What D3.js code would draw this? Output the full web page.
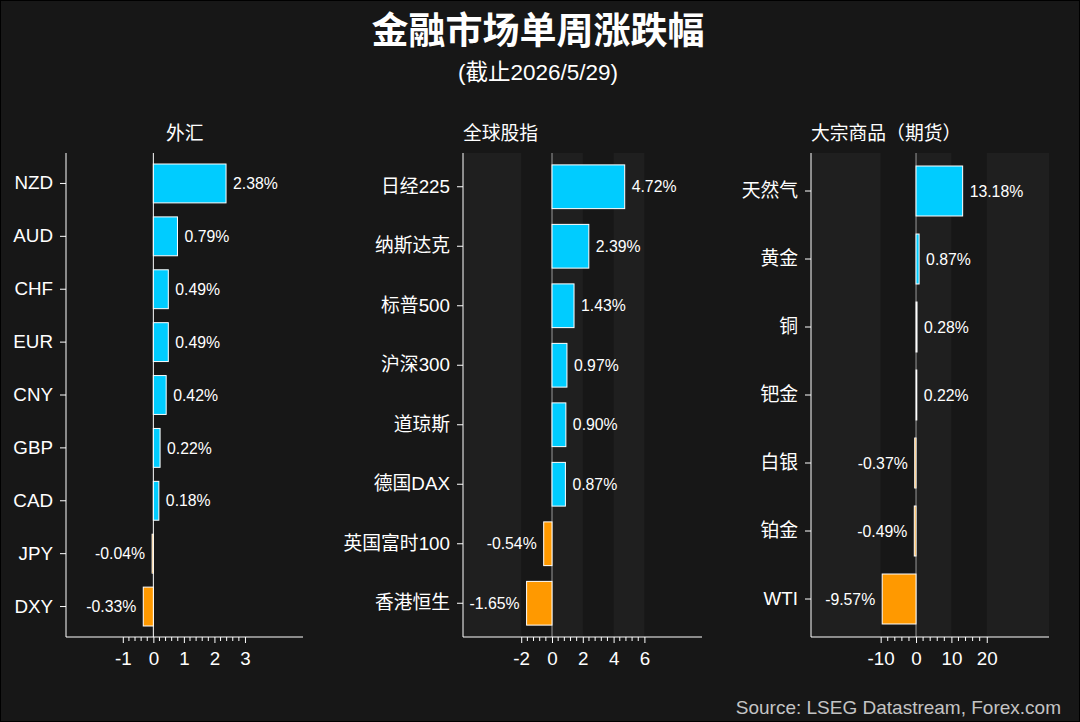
<!DOCTYPE html>
<html>
<head>
<meta charset="utf-8">
<script src="https://cdn.jsdelivr.net/npm/d3@7"></script>
<style>
  html, body { margin: 0; padding: 0; background: #171717; }
  svg text { font-family: "Liberation Sans", Arial, "Noto Sans CJK SC", sans-serif; fill: #fff; }
</style>
</head>
<body>
<div id="chart"></div>
<script>
// weekly change, %
var fxNames = ["NZD", "AUD", "CHF", "EUR", "CNY", "GBP", "CAD", "JPY", "DXY"];
var fxValues = [2.38, 0.79, 0.49, 0.49, 0.42, 0.22, 0.18, -0.04, -0.33];
var fxTicks = [-1, 0, 1, 2, 3];

var stockNames = ["日经225", "纳斯达克", "标普500", "沪深300", "道琼斯", "德国DAX", "英国富时100", "香港恒生"];
var stockValues = [4.72, 2.39, 1.43, 0.97, 0.90, 0.87, -0.54, -1.65];
var stockTicks = [-2, 0, 2, 4, 6];

var comNames = ["天然气", "黄金", "铜", "钯金", "白银", "铂金", "WTI"];
var comValues = [13.18, 0.87, 0.28, 0.22, -0.37, -0.49, -9.57];
var comTicks = [-10, 0, 10, 20];

var width = 1080,
  height = 722;

var svg = d3.select("#chart").append("svg").attr("width", width).attr("height", height);

svg.append("rect")
  .attr("x", 0.5).attr("y", 0.5)
  .attr("width", width - 1).attr("height", height - 1)
  .attr("fill", "#171717")
  .attr("stroke", "#000");

// titles
svg.append("text")
  .attr("x", 538).attr("y", 44)
  .attr("text-anchor", "middle")
  .style("font-size", "37px").style("font-weight", "bold")
  .text("金融市场单周涨跌幅");

svg.append("text")
  .attr("x", 538).attr("y", 80)
  .attr("text-anchor", "middle")
  .style("font-size", "22.5px")
  .text("(截止2026/5/29)");

svg.append("text")
  .attr("x", 1061).attr("y", 714)
  .attr("text-anchor", "end")
  .style("font-size", "19px")
  .style("fill", "#c4c4c4")
  .text("Source: LSEG Datastream, Forex.com");

var plotTop = 153,
  plotBottom = 637;

var panels = [
  { title: "外汇", titleX: 166, names: fxNames, values: fxValues, ticks: fxTicks, minor: 0.2,
    domain: [-2.86, 4.9], x0: 66, x1: 303, bands: false, zero: "#fff" },
  { title: "全球股指", titleX: 463, names: stockNames, values: stockValues, ticks: stockTicks, minor: 0.4,
    domain: [-5.78, 9.74], x0: 463, x1: 702, bands: true, zero: "#9a9a9a" },
  { title: "大宗商品（期货）", titleX: 811, names: comNames, values: comValues, ticks: comTicks, minor: 2,
    domain: [-29.7, 37.6], x0: 811, x1: 1049, bands: true, zero: "#9a9a9a" }
];

panels.forEach(function (p) {
  var x = d3.scaleLinear().domain(p.domain).range([p.x0, p.x1]);
  var y = d3.scaleBand().domain(p.names).range([157, 633]).paddingInner(0.265).paddingOuter(0.1325);
  var g = svg.append("g");

  // alternating background bands between major ticks
  if (p.bands) {
    var edges = [p.domain[0]].concat(p.ticks, [p.domain[1]]);
    for (var i = 0; i < edges.length - 1; i += 2) {
      g.append("rect")
        .attr("x", x(edges[i]))
        .attr("y", plotTop)
        .attr("width", x(edges[i + 1]) - x(edges[i]))
        .attr("height", plotBottom - plotTop)
        .attr("fill", "#1f1f1f");
    }
  }

  g.append("text")
    .attr("x", p.titleX).attr("y", 140)
    .style("font-size", "18.8px")
    .text(p.title);

  // zero line
  g.append("line")
    .attr("x1", x(0)).attr("x2", x(0))
    .attr("y1", plotTop).attr("y2", plotBottom)
    .attr("stroke", p.zero).attr("stroke-width", 1);

  var rows = p.names.map(function (n, i) { return { name: n, value: p.values[i] }; });

  g.selectAll(".bar")
    .data(rows)
    .enter()
    .append("rect")
    .attr("class", "bar")
    .attr("x", function (d) { return Math.min(x(0), x(d.value)); })
    .attr("width", function (d) { return Math.abs(x(d.value) - x(0)); })
    .attr("y", function (d) { return y(d.name); })
    .attr("height", y.bandwidth())
    .attr("fill", function (d) { return d.value >= 0 ? "#00ccff" : "#ff9900"; })
    .attr("stroke", "#fff")
    .attr("stroke-width", 1);

  g.selectAll(".val")
    .data(rows)
    .enter()
    .append("text")
    .attr("class", "val")
    .attr("x", function (d) { return d.value >= 0 ? x(d.value) + 7 : x(d.value) - 7; })
    .attr("y", function (d) { return y(d.name) + y.bandwidth() / 2; })
    .attr("dy", "0.36em")
    .attr("text-anchor", function (d) { return d.value >= 0 ? "start" : "end"; })
    .style("font-size", "15.8px")
    .text(function (d) { return d.value.toFixed(2) + "%"; });

  // y axis
  var ya = g.append("g")
    .attr("transform", "translate(" + p.x0 + ",0)")
    .call(d3.axisLeft(y).tickSize(6).tickPadding(7).tickSizeOuter(0));
  ya.select(".domain").remove();
  ya.selectAll("line").attr("stroke", "#fff");
  ya.selectAll("text").style("font-size", "18.8px").style("fill", "#fff");

  // x axis: major + minor ticks
  var xa = g.append("g")
    .attr("transform", "translate(0," + plotBottom + ")")
    .call(d3.axisBottom(x).tickValues(p.ticks).tickSize(6).tickPadding(9)
      .tickFormat(function (d) { return String(d); }));
  xa.select(".domain").remove();
  xa.selectAll("line").attr("stroke", "#fff");
  xa.selectAll("text").style("font-size", "18.8px").style("fill", "#fff");

  var first = p.ticks[0],
    last = p.ticks[p.ticks.length - 1];
  var minorTicks = d3.range(first, last + p.minor / 2, p.minor).filter(function (t) {
    return p.ticks.every(function (m) { return Math.abs(m - t) > 1e-6; });
  });
  g.selectAll(".minor")
    .data(minorTicks)
    .enter()
    .append("line")
    .attr("class", "minor")
    .attr("x1", function (d) { return x(d); })
    .attr("x2", function (d) { return x(d); })
    .attr("y1", plotBottom)
    .attr("y2", plotBottom + 4)
    .attr("stroke", "#fff");

  // axis lines
  g.append("line")
    .attr("x1", p.x0).attr("x2", p.x0)
    .attr("y1", plotTop).attr("y2", plotBottom)
    .attr("stroke", "#fff");
  g.append("line")
    .attr("x1", p.x0).attr("x2", p.x1)
    .attr("y1", plotBottom).attr("y2", plotBottom)
    .attr("stroke", "#fff");
});
</script>
</body>
</html>
